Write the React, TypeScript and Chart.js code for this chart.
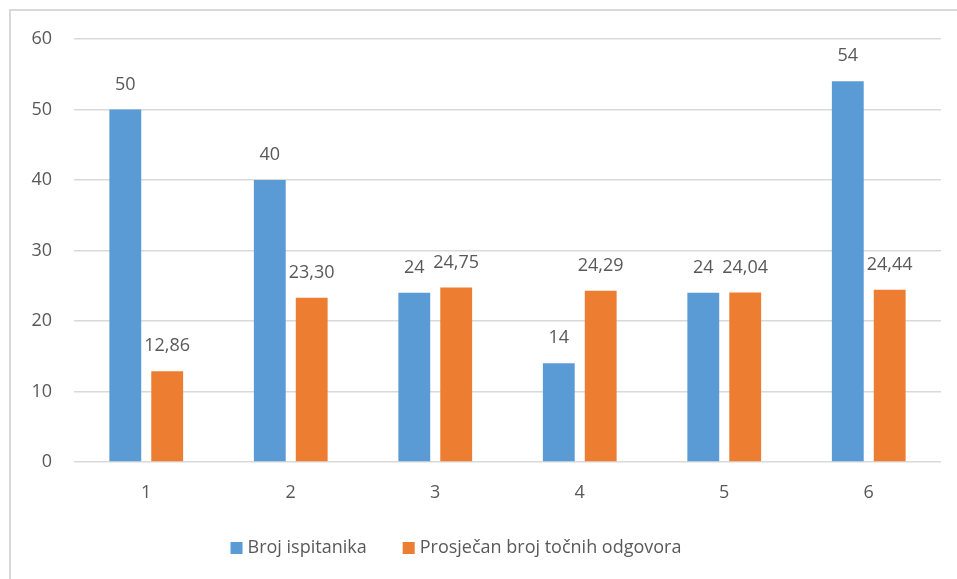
import React, { useEffect, useRef } from "react";
import { Chart, registerables } from "chart.js";

Chart.register(...registerables);

const categories = ["1", "2", "3", "4", "5", "6"];
const brojIspitanika = [50, 40, 24, 14, 24, 54];
const prosjecanBroj = [12.86, 23.3, 24.75, 24.29, 24.04, 24.44];
const seriesNames = ["Broj ispitanika", "Prosječan broj točnih odgovora"];
const decimals = [0, 2];

const FONT = "'Open Sans', 'Noto Sans', sans-serif";
const TEXT = "#595959";
const FS = 18;

const labelPlugin = {
  id: "barLabels",
  afterDatasetsDraw(chart: any) {
    const ctx = chart.ctx;
    ctx.save();
    ctx.font = `${FS}px ${FONT}`;
    ctx.fillStyle = TEXT;
    ctx.textAlign = "center";
    ctx.textBaseline = "middle";
    chart.data.datasets.forEach((ds: any, i: number) => {
      const meta = chart.getDatasetMeta(i);
      meta.data.forEach((el: any, j: number) => {
        const v = ds.data[j] as number;
        const txt = v.toFixed(decimals[i]).replace(".", ",");
        ctx.fillText(txt, el.x, el.y - 25);
      });
    });
    ctx.restore();
  },
};

const legendPlugin = {
  id: "customLegend",
  afterDraw(chart: any) {
    const ctx = chart.ctx;
    ctx.save();
    ctx.font = `${FS}px ${FONT}`;
    ctx.textBaseline = "middle";
    ctx.textAlign = "left";
    const box = 12;
    const gapText = 5;
    const gapItems = 36;
    const items = chart.data.datasets.map((ds: any) => ({
      label: ds.label,
      color: ds.backgroundColor,
      w: box + gapText + ctx.measureText(ds.label).width,
    }));
    const total = items.reduce((a: number, it: any) => a + it.w, 0) + gapItems * (items.length - 1);
    let x = 456 - total / 2;
    const y = 548;
    items.forEach((it: any) => {
      ctx.fillStyle = it.color;
      ctx.fillRect(x, y - box / 2, box, box);
      ctx.fillStyle = TEXT;
      ctx.fillText(it.label, x + box + gapText, y);
      x += it.w + gapItems;
    });
    ctx.restore();
  },
};

export default function App() {
  const ref = useRef<HTMLCanvasElement>(null);
  useEffect(() => {
    document.body.style.margin = "0";
    const chart = new Chart(ref.current!, {
      type: "bar",
      data: {
        labels: categories,
        datasets: [
          {
            label: seriesNames[0],
            data: brojIspitanika,
            backgroundColor: "#5B9BD5",
            categoryPercentage: 0.58,
            barPercentage: 0.76,
          },
          {
            label: seriesNames[1],
            data: prosjecanBroj,
            backgroundColor: "#ED7D31",
            categoryPercentage: 0.58,
            barPercentage: 0.76,
          },
        ],
      },
      options: {
        animation: false,
        responsive: false,
        maintainAspectRatio: false,
        layout: { padding: { left: 0, right: 16, top: 39, bottom: 71 } },
        scales: {
          y: {
            min: 0,
            max: 60,
            ticks: {
              stepSize: 10,
              padding: 22,
              color: TEXT,
              font: { family: FONT, size: FS },
            },
            grid: { color: "#D9D9D9", lineWidth: 1.5, drawTicks: false },
            border: { display: false },
            afterFit: (s: any) => {
              s.width = 74;
            },
          },
          x: {
            ticks: {
              padding: 20,
              color: TEXT,
              font: { family: FONT, size: FS },
            },
            grid: { display: false, drawTicks: false },
            border: { display: false },
            afterFit: (s: any) => {
              s.height = 46;
            },
          },
        },
        plugins: {
          legend: { display: false },
          tooltip: { enabled: false },
        },
      },
      plugins: [labelPlugin, legendPlugin],
    });
    return () => chart.destroy();
  }, []);
  return (
    <div style={{ position: "relative", width: 957, height: 579, overflow: "hidden", background: "#fff" }}>
      <canvas ref={ref} width={957} height={579} style={{ position: "absolute", left: 0, top: 0 }} />
      <div
        style={{
          position: "absolute",
          left: 9,
          top: 9,
          width: 960,
          height: 590,
          border: "2px solid #D9D9D9",
          pointerEvents: "none",
        }}
      />
    </div>
  );
}
